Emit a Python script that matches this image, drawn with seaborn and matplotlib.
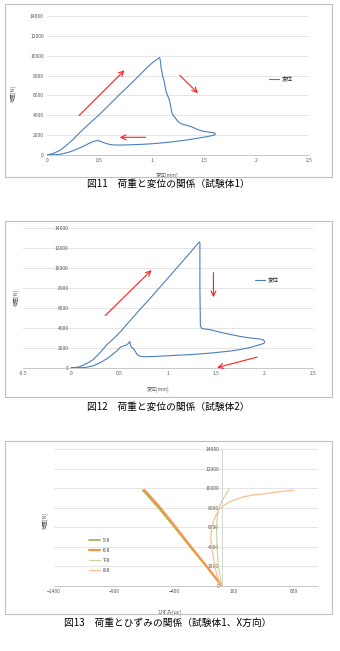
import numpy as np
import pandas as pd
import matplotlib
matplotlib.use("Agg")
import matplotlib.pyplot as plt
import seaborn as sns
from matplotlib.patches import Rectangle

sns.set_theme(style="white")
plt.rcParams['font.family'] = ['Noto Sans CJK JP', 'DejaVu Sans']

# --- fig 11: load vs displacement (specimen 1)
disp11 = [0, 0.06, 0.13, 0.19, 0.25, 0.30, 0.40, 0.50, 0.60, 0.70, 0.80, 0.90, 0.97, 1.02, 1.06, 1.075,
          1.08, 1.085, 1.09, 1.10, 1.105, 1.12, 1.13, 1.14, 1.16, 1.17, 1.18, 1.19, 1.20, 1.22, 1.25,
          1.28, 1.33, 1.38, 1.42, 1.47, 1.53, 1.58, 1.605, 1.605, 1.59,
          1.50, 1.40, 1.30, 1.20, 1.10, 1.00, 0.90, 0.80, 0.70, 0.62, 0.57, 0.53, 0.50, 0.48, 0.45,
          0.40, 0.35, 0.30, 0.25, 0.20, 0.15, 0.10, 0.05, 0]
load11 = [0, 150, 480, 1000, 1550, 2100, 3100, 4050, 5100, 6150, 7150, 8200, 8950, 9400, 9700, 9800,
          9700, 9300, 8800, 8300, 7900, 7400, 6800, 6300, 5800, 5500, 5000, 4400, 4100, 3800, 3400,
          3150, 3000, 2850, 2650, 2450, 2330, 2250, 2200, 2050, 1980,
          1800, 1620, 1460, 1330, 1220, 1130, 1070, 1030, 1000, 1020, 1150, 1300, 1420, 1450, 1380,
          1150, 880, 650, 430, 250, 120, 40, 10, 0]
arrows11 = [((0.29, 3790), (0.76, 8730)), ((1.25, 8220), (1.46, 6040)), ((0.97, 1780), (0.67, 1780))]

# --- fig 12: load vs displacement (specimen 2)
disp12 = [0, 0.08, 0.16, 0.22, 0.27, 0.32, 0.37, 0.45, 0.51, 0.60, 0.70, 0.80, 0.90, 1.00, 1.10, 1.20,
          1.27, 1.31, 1.325, 1.33, 1.33, 1.335, 1.35, 1.45, 1.55, 1.65, 1.75, 1.85, 1.95, 1.99, 2.0,
          1.99, 1.92, 1.85, 1.75, 1.65, 1.55, 1.45, 1.35, 1.25, 1.15, 1.05, 0.95, 0.85, 0.75, 0.71,
          0.68, 0.66, 0.64, 0.62, 0.61, 0.605, 0.59, 0.57, 0.54, 0.51, 0.47, 0.42, 0.37, 0.32, 0.27,
          0.22, 0.15, 0.08, 0]
load12 = [0, 100, 450, 800, 1250, 1800, 2350, 3050, 3650, 4650, 5750, 6800, 7900, 9000, 10100, 11200,
          12000, 12450, 12600, 12500, 8000, 4200, 3950, 3800, 3550, 3350, 3150, 3000, 2900, 2800, 2600,
          2450, 2250, 2050, 1850, 1700, 1600, 1500, 1420, 1350, 1300, 1250, 1200, 1150, 1120, 1180,
          1350, 1700, 1950, 2100, 2400, 2650, 2450, 2300, 2200, 2100, 1700, 1300, 950, 650, 400,
          200, 60, 10, 0]
arrows12 = [((0.33, 5050), (0.85, 9980)), ((1.47, 9810), (1.47, 6800)), ((1.95, 1160), (1.48, -30))]

# --- fig 13: load vs strain
strain5 = [0, -130, -265, -395, -530, -660]
load5 = [0, 2000, 4000, 6000, 8000, 9800]
strain6 = [0, -128, -258, -385, -515, -645]
load6 = [0, 2000, 4000, 6000, 8000, 9800]
strain7 = [0, -30, -42, -45, -40, -25, 0, 30, 60]
load7 = [0, 2000, 4000, 6000, 7000, 8000, 8700, 9300, 9900]
strain8 = [0, -40, -60, -86, -94, -85, -60, -20, 60, 175, 260, 340, 420, 520, 600]
load8 = [0, 1000, 2000, 4000, 5000, 6000, 7000, 7900, 8600, 9100, 9300, 9400, 9550, 9700, 9800]
series13 = ["5-X", "6-X", "7-X", "8-X"]
colors13 = ["#9bbb59", "#f79646", "#c3d69b", "#fabf8f"]
widths13 = [1.3, 1.6, 0.8, 0.9]

captions = ["図11　荷重と変位の関係（試験体1）",
            "図12　荷重と変位の関係（試験体2）",
            "図13　荷重とひずみの関係（試験体1、X方向）"]

W, H = 340, 651
fig = plt.figure(figsize=(W / 100, H / 100), dpi=100)


def box(l, t, r, b):
    return [l / W, (H - b) / H, (r - l) / W, (b - t) / H]


def style(ax):
    for s in ['top', 'right', 'left']:
        ax.spines[s].set_color('none')
    ax.spines['bottom'].set_color('#bfbfbf')
    ax.spines['bottom'].set_linewidth(0.6)
    ax.yaxis.grid(True, color='#d9d9d9', lw=0.5)
    ax.xaxis.grid(False)
    ax.tick_params(labelsize=3.6, colors='#595959', length=0, pad=2)
    ax.set_ylim(0, 14000)
    ax.set_yticks(range(0, 14001, 2000))


for l, t, r, b in [(5, 4, 332, 177), (5, 221, 332, 397), (5, 441, 332, 614)]:
    fig.add_artist(Rectangle((l / W, (H - b) / H), (r - l) / W, (b - t) / H,
                             transform=fig.transFigure, fill=False, ec='#bfbfbf', lw=0.8))

arrow_kw = dict(arrowstyle='->', color='#ff2020', lw=0.8, mutation_scale=9)

# fig 11
ax1 = fig.add_axes(box(46.7, 16, 309, 155))
sns.lineplot(x=disp11, y=load11, sort=False, estimator=None, ax=ax1, color='#4a7ebb', lw=0.8, label='変位')
style(ax1)
ax1.set_xlim(0, 2.5)
ax1.set_xticks([0, 0.5, 1, 1.5, 2, 2.5])
ax1.set_xticklabels(['0', '0.5', '1', '1.5', '2', '2.5'])
ax1.set_xlabel('変位[mm]', fontsize=3.6, color='#595959')
ax1.set_ylabel('荷重[N]', fontsize=3.6, color='#595959')
ax1.xaxis.set_label_coords(0.46, -0.122)
ax1.yaxis.set_label_coords(-0.117, 0.446)
ax1.legend(loc='center left', bbox_to_anchor=(0.84, 0.547), frameon=False, fontsize=4,
           handlelength=1.8, borderaxespad=0, handletextpad=0.4)
for (x0, y0), (x1, y1) in arrows11:
    ax1.annotate('', xy=(x1, y1), xytext=(x0, y0), arrowprops=arrow_kw)

# fig 12
ax2 = fig.add_axes(box(23, 228, 313, 368))
sns.lineplot(x=disp12, y=load12, sort=False, estimator=None, ax=ax2, color='#4a7ebb', lw=0.8, label='変位')
style(ax2)
ax2.spines['left'].set_position(('data', 0))
ax2.set_xlim(-0.5, 2.5)
ax2.set_xticks([-0.5, 0, 0.5, 1, 1.5, 2, 2.5])
ax2.set_xticklabels(['-0.5', '0', '0.5', '1', '1.5', '2', '2.5'])
ax2.set_xlabel('変位[mm]', fontsize=3.6, color='#595959')
ax2.set_ylabel('荷重[N]', fontsize=3.6, color='#595959')
ax2.xaxis.set_label_coords(0.466, -0.129)
ax2.yaxis.set_label_coords(-0.014, 0.5)
ax2.legend(loc='center left', bbox_to_anchor=(0.793, 0.629), frameon=False, fontsize=4,
           handlelength=1.8, borderaxespad=0, handletextpad=0.4)
for (x0, y0), (x1, y1) in arrows12:
    ax2.annotate('', xy=(x1, y1), xytext=(x0, y0), annotation_clip=False, arrowprops=arrow_kw)

# fig 13
ax3 = fig.add_axes(box(54, 449, 318, 586))
xs13 = [strain5, strain6, strain7, strain8]
ys13 = [load5, load6, load7, load8]
for name, xs, ys, c, w in zip(series13, xs13, ys13, colors13, widths13):
    sns.lineplot(x=xs, y=ys, sort=False, estimator=None, ax=ax3, color=c, lw=w, label=name)
style(ax3)
ax3.spines['left'].set_position(('data', 0))
ax3.spines['left'].set_color('#d0d0d0')
ax3.spines['left'].set_linewidth(0.6)
ax3.set_xlim(-1400, 800)
ax3.set_xticks([-1400, -900, -400, 100, 600])
ax3.set_xlabel('ひずみ[με]', fontsize=3.6, color='#595959')
ax3.set_ylabel('荷重[N]', fontsize=3.6, color='#595959')
ax3.xaxis.set_label_coords(0.436, -0.168)
ax3.yaxis.set_label_coords(-0.023, 0.48)
ax3.legend(loc='center left', bbox_to_anchor=(0.125, 0.226), frameon=False, fontsize=3.6,
           handlelength=2.2, borderaxespad=0, handletextpad=0.5, labelspacing=1.0)

for txt, y in zip(captions, [184, 407, 623]):
    fig.text(168 / W, (H - y) / H, txt, ha='center', va='center', fontsize=7, color='black')

fig.savefig('out.png', dpi=100)
